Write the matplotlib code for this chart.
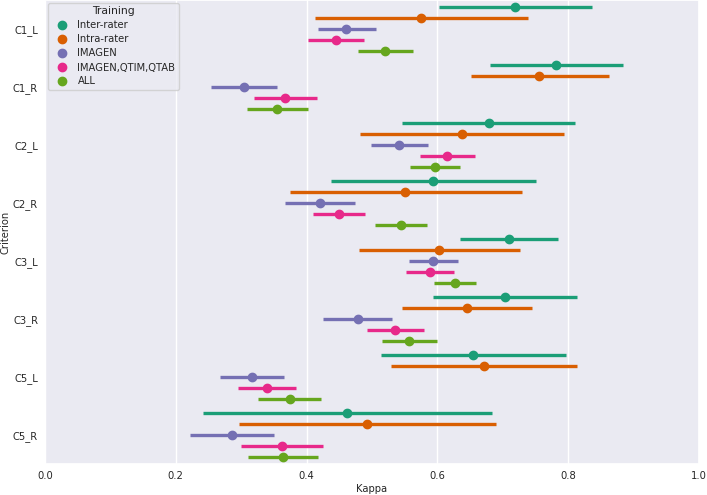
import numpy as np
import matplotlib
matplotlib.use('Agg')
import matplotlib.pyplot as plt
import seaborn as sns

criteria = ['C1_L', 'C1_R', 'C2_L', 'C2_R', 'C3_L', 'C3_R', 'C5_L', 'C5_R']
groups = ['Inter-rater', 'Intra-rater', 'IMAGEN', 'IMAGEN,QTIM,QTAB', 'ALL']
colors = ['#1b9e77', '#d95f02', '#7570b3', '#e7298a', '#66a61e']

# kappa point estimates (one list per training group, in criteria order)
inter_mean = [0.719, 0.782, 0.679, 0.594, 0.710, 0.703, 0.654, 0.462]
intra_mean = [0.575, 0.756, 0.637, 0.551, 0.603, 0.645, 0.671, 0.493]
imagen_mean = [0.461, 0.304, 0.542, 0.420, 0.594, 0.478, 0.316, 0.286]
iqq_mean = [0.445, 0.367, 0.615, 0.449, 0.588, 0.535, 0.339, 0.362]
all_mean = [0.520, 0.355, 0.597, 0.544, 0.627, 0.557, 0.374, 0.364]

# confidence intervals
inter_lo = [0.602, 0.681, 0.546, 0.438, 0.635, 0.594, 0.514, 0.242]
inter_hi = [0.836, 0.884, 0.811, 0.751, 0.785, 0.813, 0.796, 0.683]
intra_lo = [0.413, 0.652, 0.482, 0.375, 0.480, 0.546, 0.529, 0.297]
intra_hi = [0.738, 0.862, 0.794, 0.729, 0.727, 0.744, 0.813, 0.690]
imagen_lo = [0.417, 0.254, 0.499, 0.367, 0.557, 0.425, 0.268, 0.221]
imagen_hi = [0.506, 0.354, 0.585, 0.474, 0.631, 0.531, 0.365, 0.350]
iqq_lo = [0.402, 0.320, 0.573, 0.410, 0.552, 0.492, 0.295, 0.299]
iqq_hi = [0.488, 0.416, 0.657, 0.490, 0.626, 0.579, 0.384, 0.425]
all_lo = [0.478, 0.309, 0.558, 0.505, 0.595, 0.515, 0.325, 0.310]
all_hi = [0.563, 0.402, 0.635, 0.584, 0.659, 0.599, 0.422, 0.418]

means = [inter_mean, intra_mean, imagen_mean, iqq_mean, all_mean]
lows = [inter_lo, intra_lo, imagen_lo, iqq_lo, all_lo]
highs = [inter_hi, intra_hi, imagen_hi, iqq_hi, all_hi]

sns.set_theme(style='darkgrid')
fs = 7.2

fig = plt.figure(figsize=(7.07, 4.95), dpi=100)
ax = fig.add_axes([45 / 707, 31 / 495, 654 / 707, 464 / 495])

y = np.arange(len(criteria))
step = 0.1875
for i, g in enumerate(groups):
    off = (i - 2) * step
    ax.hlines(y + off, lows[i], highs[i], color=colors[i], lw=2.4, zorder=2)
    ax.plot(means[i], y + off, 'o', color=colors[i], ms=6, zorder=3, label=g)

ax.set_xlim(0, 1)
ax.set_ylim(len(criteria) - 0.5, -0.5)
ax.set_yticks(y)
ax.set_yticklabels(criteria, fontsize=fs)
ax.set_xticks([0, 0.2, 0.4, 0.6, 0.8, 1.0])
ax.set_xticklabels(['0.0', '0.2', '0.4', '0.6', '0.8', '1.0'], fontsize=fs)
ax.tick_params(axis='both', length=0, pad=5)
ax.yaxis.grid(False)
ax.set_xlabel('Kappa', fontsize=fs, labelpad=2)
ax.set_ylabel('Criterion', fontsize=fs)
ax.yaxis.set_label_coords(-0.053, 0.5)

leg = ax.legend(title='Training', loc='upper left', fontsize=fs, title_fontsize=7.8,
                handletextpad=0.6, borderaxespad=0.3, labelspacing=0.4, borderpad=0.35)

fig.savefig('out.png', dpi=100)
